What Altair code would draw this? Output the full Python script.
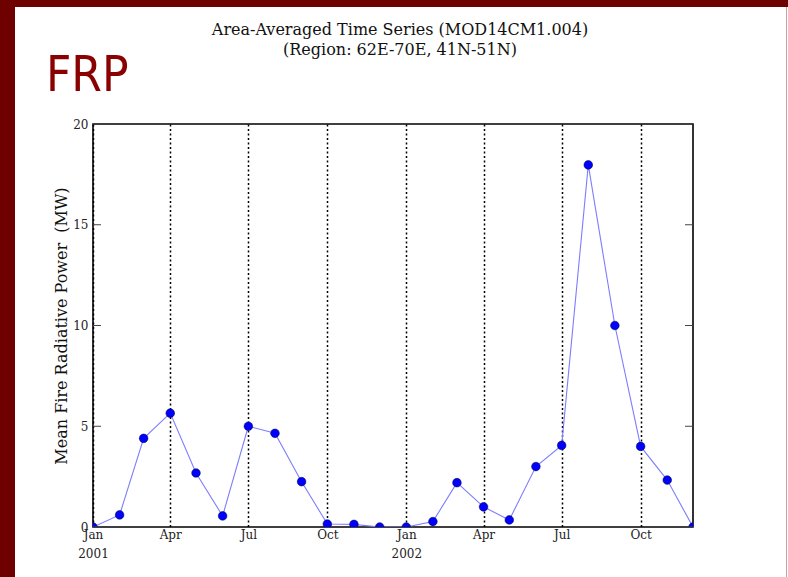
import altair as alt
import pandas as pd

# Monthly area-averaged fire radiative power, Jan 2001 - Dec 2002
months = [
    "2001-01", "2001-02", "2001-03", "2001-04", "2001-05", "2001-06",
    "2001-07", "2001-08", "2001-09", "2001-10", "2001-11", "2001-12",
    "2002-01", "2002-02", "2002-03", "2002-04", "2002-05", "2002-06",
    "2002-07", "2002-08", "2002-09", "2002-10", "2002-11", "2002-12",
]
frp_mw = [
    0.0, 0.6, 4.4, 5.65, 2.68, 0.55, 5.0, 4.65, 2.25, 0.15, 0.13, 0.0,
    0.0, 0.27, 2.2, 1.0, 0.35, 3.0, 4.05, 17.97, 10.0, 4.0, 2.33, 0.0,
]
quarter_ticks = [
    "2001-01", "2001-04", "2001-07", "2001-10",
    "2002-01", "2002-04", "2002-07", "2002-10",
]
y_ticks = [0, 5, 10, 15, 20]
title_lines = ["Area-Averaged Time Series (MOD14CM1.004)", "(Region: 62E-70E, 41N-51N)"]

df = pd.DataFrame({"date": [m + "-01T00:00:00" for m in months], "frp": frp_mw})
ticks_df = pd.DataFrame({"v": y_ticks})

W, H = 600, 403
SERIF = "DejaVu Serif"

tick_vals = [
    alt.DateTime(year=int(t[:4]), month=int(t[5:]), date=1) for t in quarter_ticks
]

x_enc = alt.X(
    "date:T",
    scale=alt.Scale(
        domain=[
            alt.DateTime(year=2001, month=1, date=1),
            alt.DateTime(year=2002, month=12, date=1),
        ],
        nice=False,
    ),
    axis=alt.Axis(
        values=tick_vals,
        title=None,
        grid=True,
        gridColor="black",
        gridDash=[2, 2.5],
        gridWidth=1.5,
        gridOpacity=1,
        ticks=False,
        domain=False,
        labelFont=SERIF,
        labelFontSize=12,
        labelColor="#222",
        labelPadding=2,
        labelLineHeight=19,
        labelFlush=False,
        labelOverlap=False,
        labelExpr="timeFormat(datum.value, '%m') == '01' ? "
        "[timeFormat(datum.value, '%b'), timeFormat(datum.value, '%Y')] : "
        "timeFormat(datum.value, '%b')",
    ),
)
y_enc = alt.Y(
    "frp:Q",
    scale=alt.Scale(domain=[0, 20], nice=False),
    axis=alt.Axis(
        values=y_ticks,
        title="Mean Fire Radiative Power\u00a0\u00a0(MW)",
        titleFont=SERIF,
        titleFontSize=16,
        titleFontWeight="normal",
        titleColor="#111",
        titlePadding=3,
        grid=False,
        ticks=False,
        domain=False,
        labelFont=SERIF,
        labelFontSize=12,
        labelColor="#222",
        labelPadding=5,
    ),
)

line = alt.Chart(df).mark_line(color="#7d7dff", strokeWidth=1.1, clip=True).encode(
    x=x_enc, y=y_enc
)
points = alt.Chart(df).mark_point(
    filled=True, shape="circle", size=75, color="#0000ff",
    stroke="#000033", strokeWidth=0.5, opacity=1, clip=True,
).encode(x="date:T", y="frp:Q")

# inward tick marks on the left and right spines
left_ticks = alt.Chart(ticks_df).mark_rule(color="#444", strokeWidth=1).encode(
    y="v:Q", x=alt.value(0), x2=alt.value(8)
)
right_ticks = alt.Chart(ticks_df).mark_rule(color="#444", strokeWidth=1).encode(
    y="v:Q", x=alt.value(W - 8), x2=alt.value(W)
)

# slide frame, slide heading and the two-line chart title
frame_df = pd.DataFrame({"k": [0]})
frame_left = alt.Chart(frame_df).mark_rect(color="#6e0000").encode(
    x=alt.value(-93), x2=alt.value(-78), y=alt.value(-124), y2=alt.value(H + 50)
)
frame_top = alt.Chart(frame_df).mark_rect(color="#6e0000").encode(
    x=alt.value(-93), x2=alt.value(W + 95), y=alt.value(-124), y2=alt.value(-117)
)
frame_right = alt.Chart(frame_df).mark_rule(color="#c9a0a0", strokeWidth=1).encode(
    x=alt.value(W + 93.5), y=alt.value(-117), y2=alt.value(H + 50)
)
heading = alt.Chart(frame_df).mark_text(
    text="FRP", font="Liberation Sans Narrow, DejaVu Sans Condensed, Roboto",
    fontSize=49, color="#8b0000", align="left", baseline="alphabetic",
).encode(x=alt.value(-47), y=alt.value(-33))

title1 = alt.Chart(frame_df).mark_text(
    text=title_lines[0], font=SERIF, fontSize=16, color="#111",
    align="center", baseline="alphabetic",
).encode(x=alt.value(W / 2 + 7), y=alt.value(-89))
title2 = alt.Chart(frame_df).mark_text(
    text=title_lines[1], font=SERIF, fontSize=16, color="#111",
    align="center", baseline="alphabetic",
).encode(x=alt.value(W / 2 + 7), y=alt.value(-69))

chart = alt.layer(
    frame_left, frame_top, frame_right, heading, title1, title2,
    line, points, left_ticks, right_ticks,
).properties(
    width=W,
    height=H,
    padding={"left": 93, "top": 124, "right": 95, "bottom": 50},
    autosize=alt.AutoSizeParams(type="none"),
    background="white",
).configure_view(
    stroke="black", strokeWidth=1.6, fill="white"
)

chart.save("out.html", embed_options={"renderer": "svg", "actions": False})
